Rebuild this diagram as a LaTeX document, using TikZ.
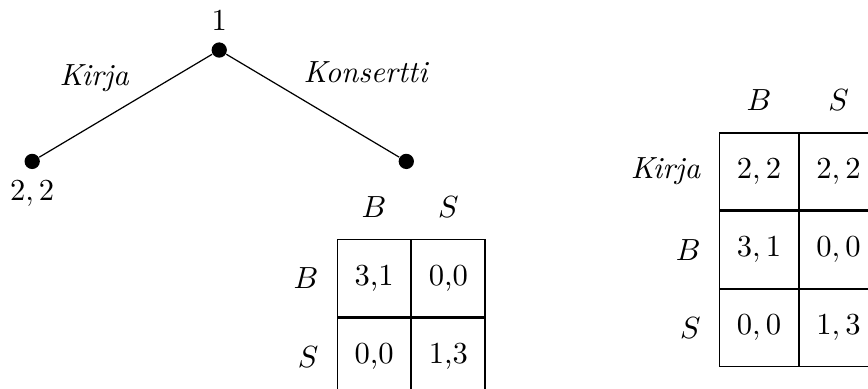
\documentclass[tikz,border=0pt]{standalone}
\usetikzlibrary{positioning}
\tikzset{
  dot/.style={circle, fill=black, inner sep=0pt, minimum size=5pt},
  move/.style={font=\itshape},
  cell/.style={draw, minimum width=0.84cm, minimum height=0.885cm, inner sep=0pt},
  widecell/.style={cell, minimum width=0.9cm}
}

\begin{document}
\begin{tikzpicture}
\path[use as bounding box, clip] (0,0) rectangle (9.977,-4.46);
% game tree
\node[dot,label=above:$1$] (root) at (2.52,-0.575) {};
\node[dot,on grid,below left=1.28cm and 2.15cm of root,label=below:{$2,2$}] (kir) {};
\node[dot,on grid,below right=1.28cm and 2.15cm of root] (kon) {};
\draw (root) -- node[move,above left,xshift=0.16cm,yshift=1pt] (lk) {Kirja} (kir);
\draw (root) -- node[move,above right,xshift=-0.23cm,yshift=0.14cm] (lko) {Konsertti} (kon);
% subgame after Konsertti
\node[cell,below=0.8cm of kon,xshift=-0.37cm] (l11) {3,1};
\node[cell,right=0pt of l11] (l12) {0,0};
\node[cell,below=0pt of l11] (l21) {0,0};
\node[cell,right=0pt of l21] (l22) {1,3};
\node[above=0.13cm of l11] (lcb) {$B$};
\node[above=0.13cm of l12] (lcs) {$S$};
\node[left=0.09cm of l11] (lrb) {$B$};
\node[left=0.09cm of l21] (lrs) {$S$};
% normal form
\node[widecell] (r11) at (8.724,-1.971) {$2,2$};
\node[widecell,right=0pt of r11] (r12) {$2,2$};
\node[widecell,below=0pt of r11] (r21) {$3,1$};
\node[widecell,right=0pt of r21] (r22) {$0,0$};
\node[widecell,below=0pt of r21] (r31) {$0,0$};
\node[widecell,right=0pt of r31] (r32) {$1,3$};
\node[above=0.13cm of r11] (rcb) {$B$};
\node[above=0.13cm of r12] (rcs) {$S$};
\node[left=0.09cm of r11] (rrk) {\textit{Kirja}};
\node[left=0.09cm of r21] (rrb) {$B$};
\node[left=0.09cm of r31] (rrs) {$S$};
\end{tikzpicture}
\end{document}
